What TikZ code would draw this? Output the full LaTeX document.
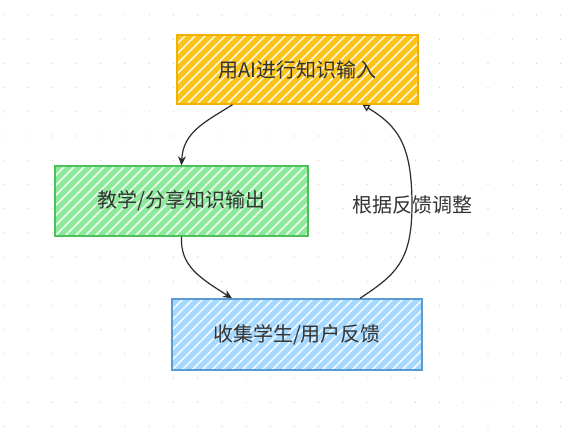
\documentclass[tikz,border=0pt]{standalone}
\usepackage{fontspec}
\newfontfamily\cjk{Noto Sans CJK SC}
\usetikzlibrary{arrows.meta}
\definecolor{yFill}{HTML}{FCC419}
\definecolor{yBorder}{HTML}{F2B100}
\definecolor{gFill}{HTML}{8CE99A}
\definecolor{gBorder}{HTML}{4CC05A}
\definecolor{bFill}{HTML}{A5D8FF}
\definecolor{bBorder}{HTML}{5B9BD5}
\definecolor{txt}{HTML}{333333}
\definecolor{ink}{HTML}{2B2B2B}
\definecolor{dotc}{HTML}{D4D4D4}
\tikzset{
	hatch/.style={path picture={
		\foreach \k in {-100,-90,...,300}
		\draw[white, line width=1.6pt, opacity=0.85]
		([xshift=\k pt]path picture bounding box.south west) -- ++(80pt,80pt);
	}},
	box/.style={rectangle, draw, line width=1.4pt, inner sep=0pt, text=txt,
		font=\cjk\fontsize{20}{24}\selectfont, hatch},
	flow/.style={draw=ink, line width=1.2pt, -{Stealth[length=9pt,width=8pt]}},
}
\begin{document}
\begin{tikzpicture}[x=1pt,y=-1pt,thick]
				\useasboundingbox (0,0) rectangle (566,432);
				% dot grid
				\foreach \x in {0,...,23}{
					\foreach \y in {0,...,17}
					\fill[dotc] (4+24.2*\x, 15+24.2*\y) circle (0.7pt);
				}
				% boxes
				\node[box, draw=yBorder, fill=yFill, minimum width=241pt, minimum height=69pt]
					(input) at (297.5, 69.5) {用AI进行知识输入};
				\node[box, draw=gBorder, fill=gFill, minimum width=253pt, minimum height=70pt]
					(output) at (181.5, 201) {教学/分享知识输出};
				\node[box, draw=bBorder, fill=bFill, minimum width=250pt, minimum height=71pt]
					(feedback) at (297, 334.5) {收集学生/用户反馈};
				% input -> output
				\draw[flow] ([xshift=-65pt]input.south) .. controls (205,122) and (183,132) .. (output.north);
				% output -> feedback
				\draw[flow] (output.south) .. controls (180,266) and (200,278) .. ([xshift=-65pt]feedback.north);
				% feedback -> input
				\draw[flow, -{Triangle[open,length=7pt,width=7pt]}] ([xshift=63pt]feedback.north)
					.. controls (395,275) and (412,262) .. (412,205)
					node[text=txt, font=\cjk\fontsize{20}{24}\selectfont] (adjust) {根据反馈调整}
					.. controls (412,145) and (398,126) .. ([xshift=65pt]input.south);
			\end{tikzpicture}
\end{document}
